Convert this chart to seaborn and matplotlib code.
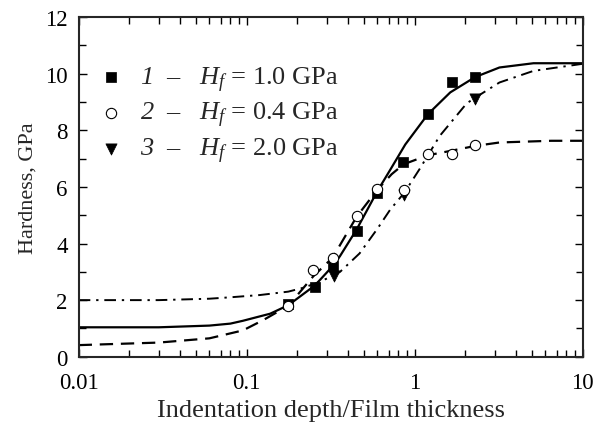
import numpy as np
import pandas as pd
import matplotlib
matplotlib.use("Agg")
import matplotlib.pyplot as plt
import seaborn as sns

# measured points (depth/thickness, hardness GPa)
x1 = [0.177, 0.255, 0.325, 0.452, 0.60, 0.855, 1.2, 1.66, 2.29]
y1 = [1.87, 2.45, 3.2, 4.45, 5.8, 6.87, 8.57, 9.69, 9.9]
x2 = [0.177, 0.25, 0.327, 0.452, 0.60, 0.87, 1.2, 1.66, 2.29]
y2 = [1.78, 3.05, 3.48, 4.97, 5.92, 5.9, 7.15, 7.16, 7.47]
x3 = [0.33, 0.87, 2.29]
y3 = [2.85, 5.72, 9.1]

# fitted curves
cx1 = [0.01, 0.03, 0.06, 0.08, 0.095, 0.117, 0.138, 0.177, 0.255, 0.325, 0.359,
       0.452, 0.6, 0.72, 0.88, 1.2, 1.63, 2.29, 3.2, 5.1, 10]
cy1 = [1.04, 1.04, 1.1, 1.17, 1.27, 1.41, 1.52, 1.82, 2.52, 3.2, 3.55,
       4.5, 5.85, 6.63, 7.5, 8.57, 9.34, 9.88, 10.22, 10.37, 10.37]
cx2 = [0.01, 0.03, 0.06, 0.095, 0.126, 0.177, 0.25, 0.325, 0.36, 0.452, 0.6,
       0.73, 0.86, 1.2, 1.66, 2.3, 3.2, 6.5, 10]
cy2 = [0.41, 0.5, 0.65, 0.93, 1.3, 1.8, 2.85, 3.5, 3.95, 4.95, 5.9,
       6.45, 6.8, 7.12, 7.28, 7.45, 7.57, 7.63, 7.63]
cx3 = [0.01, 0.03, 0.06, 0.08, 0.12, 0.177, 0.212, 0.255, 0.325, 0.36, 0.47,
       0.6, 0.716, 0.87, 1.07, 1.41, 2.04, 2.29, 3.2, 5.1, 10]
cy3 = [2.0, 2.0, 2.05, 2.1, 2.18, 2.3, 2.42, 2.58, 2.85, 3.0, 3.65,
       4.52, 5.2, 5.8, 6.63, 7.8, 8.95, 9.15, 9.69, 10.1, 10.35]

labels = [r"$\mathsf{1}$  –   $H_f$ = 1.0 GPa",
          r"$\mathsf{2}$  –   $H_f$ = 0.4 GPa",
          r"$\mathsf{3}$  –   $H_f$ = 2.0 GPa"]

sns.set_style("ticks")
plt.rcParams["font.family"] = ["Liberation Serif", "DejaVu Serif"]
plt.rcParams["mathtext.fontset"] = "custom"
plt.rcParams["mathtext.rm"] = "Liberation Serif"
plt.rcParams["mathtext.it"] = "Liberation Serif:italic"
plt.rcParams["mathtext.sf"] = "Liberation Serif:italic"
plt.rcParams["mathtext.bf"] = "Liberation Serif:bold"

fig = plt.figure(figsize=(6.05, 4.31), dpi=100)
ax = fig.add_axes([0.130, 0.170, 0.833, 0.788])

sns.lineplot(x=cx1, y=cy1, ax=ax, color="black", lw=1.6, linestyle="-")
sns.lineplot(x=cx2, y=cy2, ax=ax, color="black", lw=1.6, linestyle=(0, (6, 3.5)))
sns.lineplot(x=cx3, y=cy3, ax=ax, color="black", lw=1.4, linestyle=(0, (6, 3, 1.2, 3)))

sns.scatterplot(x=x1, y=y1, ax=ax, marker="s", s=55, color="black",
                edgecolor="black", linewidth=0.5, label=labels[0], zorder=5)
sns.scatterplot(x=x2, y=y2, ax=ax, marker="o", s=55, color="white",
                edgecolor="black", linewidth=0.8, label=labels[1], zorder=6)
sns.scatterplot(x=x3, y=y3, ax=ax, marker="v", s=65, color="black",
                edgecolor="black", linewidth=0.5, label=labels[2], zorder=5)

ax.set_xscale("log")
ax.set_xlim(0.01, 10)
ax.set_ylim(0, 12)
ax.set_yticks([0, 2, 4, 6, 8, 10, 12])
ax.set_yticks(np.arange(1, 12, 2), minor=True)
ax.set_xticks([0.01, 0.1, 1, 10])
ax.set_xticklabels(["0.01", "0.1", "1", "10"])

for s in ax.spines.values():
    s.set_linewidth(1.5)
ax.tick_params(which="both", direction="in", top=True, right=True,
               width=1.0, labelsize=16.5, colors="black")
ax.tick_params(which="major", length=6, pad=8)
ax.tick_params(axis="x", which="major", pad=11)
ax.tick_params(which="minor", length=5)

ax.set_xlabel("Indentation depth/Film thickness", fontsize=19, labelpad=4)
ax.set_ylabel("Hardness, GPa", fontsize=16, labelpad=5)

ax.legend(loc="upper left", bbox_to_anchor=(-0.025, 0.93), frameon=False,
          fontsize=19, handletextpad=0.3, labelspacing=0.25, borderpad=0.4,
          handlelength=1.6)

fig.savefig("out.png", dpi=100)
